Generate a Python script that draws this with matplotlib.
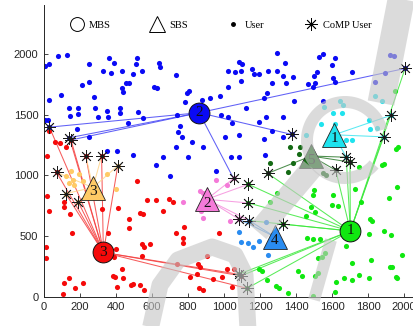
import numpy as np
import matplotlib
matplotlib.use('Agg')
import matplotlib.pyplot as plt
from matplotlib.lines import Line2D
from matplotlib.transforms import Affine2D

# ---------------- data ----------------
mbs_labels = ['1', '2', '3']
mbs_x = [1702, 862, 330]
mbs_y = [542, 1517, 365]

sbs_labels = ['1', '2', '3', '4', '5']
sbs_x = [1612, 904, 272, 1281, 1484]
sbs_y = [1335, 803, 900, 495, 1160]

users_M1 = [(1502,880),(1496,838),(1607,838),(1598,756),(1635,748),(1506,701),(1483,737),(1454,665),
            (1728,885),(1761,783),(1811,638),(1820,627),(1806,517),(1891,544),(1928,509),(1959,907),
            (1917,811),(1987,344),(1817,302),(1709,275),(1922,248),(1935,242),(1750,179),(1709,138),
            (1806,151),(1669,151),(1620,124),(1956,160),(1961,151),(1617,41),(1506,171),(1524,193),
            (1409,215),(1432,171),(1354,33),(1496,5),(1561,357),(1546,324),(1524,316),(1676,418),
            (1459,481),(1496,473),(1533,473),(1950,1700),(1969,1237),(1955,1220),(1876,1088),(1889,1094),
            (1752,1072),(1296,858),(1258,780),(1196,225),(1210,210),(1241,138),(1290,85),(1305,69)]

users_M2 = [(8,1905),(30,1915),(80,1985),(130,1990),(252,1915),(361,1965),(391,1924),(519,1965),
            (511,1915),(493,1833),(543,1863),(641,1924),(645,1896),(330,1863),(372,1847),(432,1863),
            (432,1723),(437,1685),(456,1759),(474,1764),(209,1745),(252,1772),(94,1663),(30,1621),
            (141,1553),(191,1553),(144,1492),(191,1506),(283,1553),(280,1643),(352,1533),(422,1553),
            (422,1511),(524,1525),(552,1470),(465,1434),(354,1478),(302,1484),(252,1314),(182,1380),
            (8,1456),(20,1456),(733,1825),(611,1729),(626,1723),(793,1676),(806,1698),(783,1602),
            (737,1498),(756,1407),(743,1360),(765,1314),(820,1278),(882,1231),(733,1231),(802,1149),
            (622,1085),(663,1149),(700,995),(348,1204),(407,1204),(493,1168),(876,1622),
            (1296,2006),(1530,1979),(1548,1998),(1617,1965),(1024,1863),(1061,1855),(1085,1937),(1098,1918),
            (1095,1863),(1154,1874),(1196,1836),(1167,1836),(1246,1863),(1296,1863),(1339,1924),(1385,1808),
            (1326,1819),(1345,1764),(1265,1759),(1095,1781),(1024,1726),(1469,1753),(1506,1759),(1515,1855),
            (1500,1819),(1598,1910),(1607,1800),(1617,1772),(1709,1855),(1493,1726),(1237,1676),(1224,1635),
            (1389,1613),(1122,1553),(922,1635),(978,1654),(983,1498),(1024,1478),(1043,1434),(1196,1443),
            (1233,1478),(1326,1478),(1265,1369),(1222,1300),(1006,1314),(1085,1333),(1326,1314),(1037,1149),
            (1085,1149),(955,1035),(1228,1168),(1552,1613),(1922,1992),(1946,1984),(1895,1841),(1839,1772)]

users_M3 = [(30,1369),(61,1278),(89,1270),(122,1232),(18,1160),(18,830),(30,706),(111,742),(111,783),
            (144,679),(154,528),(320,720),(354,528),(413,728),(474,638),(474,564),(533,693),(548,679),
            (574,797),(622,797),(663,703),(543,434),(589,434),(556,412),(543,336),(400,390),(390,330),
            (11,407),(11,316),(111,116),(141,151),(172,74),(219,116),(104,22),(385,171),(394,160),
            (441,151),(432,226),(482,96),(493,105),(533,96),(556,55),(404,77),(515,957),(696,803),
            (715,778),(733,522),(778,572),(774,481),(770,445),(974,528),(811,160),(852,187),(941,143),
            (863,69),(881,55),(1043,77),(737,270),(857,270),(867,242),(904,336),(987,160),(1015,226),
            (1056,226)]

users_S1 = [(1556,1566),(1604,1517),(1645,1613),(1659,1580),(1654,1517),(1808,1456),(1811,1380),
            (1848,1388),(1537,1423),(1617,1423),(1456,1333),(1709,1292),(1678,1292),(1839,1654),(1876,1613)]
users_S2 = [(774,783),(867,874),(881,858),(870,710),(881,646),(956,962),(1015,921),(1033,627)]
users_S3 = [(122,995),(150,1040),(196,1015),(219,957),(352,1008),(400,885),(141,940),(169,921),(163,962)]
users_S4 = [(1085,536),(1093,454),(1135,440),(1163,407),(1196,462),(1233,619),(1246,344)]
users_S5 = [(1367,1231),(1422,1237),(1417,1177),(1385,1100),(1256,1100),(1357,1031),(1552,1017),(1567,1003)]

comp_x = [30, 141, 150, 232, 320, 410, 70, 120, 191, 1053, 1135, 1135, 1085, 1141, 1328, 1243,
          1082, 1095, 1128, 1376, 2006, 1925, 1887, 1679, 1700, 1621]
comp_y = [1398, 1311, 1292, 1163, 1160, 1080, 1025, 850, 778, 975, 927, 773, 638, 627, 598, 1017,
          185, 172, 69, 1338, 1882, 1494, 1318, 1150, 1110, 1043]
comp_cell = ['M2','M2','M3','M3','M3','S3','M3','S3','S3','S2','M1','M1','S2','S4','M1','S5',
             'M1','M3','M1','M2','M2','S1','S1','S1','S5','S5']
comp_links = [['M2','M3'],['M2','M3'],['M2','M3'],['M3','S3'],['M3','S3'],['S3','M3'],['M3','S3'],
              ['S3','M3'],['S3','M3'],['M2','S2'],['S2','M1'],['S2','M1'],['S2','S4'],['S2','S4','M1'],
              ['S4','M1'],['S5','M1'],['M3','M1'],['M3','M1'],['M3','M1'],['M2'],['M2','M1'],
              ['S1','M1'],['S1','M1'],['S1','S5','M1'],['S5','M1'],['S5','M1']]

# ---------------- style ----------------
colors = {'M1': '#10E810', 'M2': '#0A0AF5', 'M3': '#F50A0A',
          'S1': '#1FE3EE', 'S2': '#F47AD8', 'S3': '#FFCA66',
          'S4': '#2A8CF0', 'S5': '#146A14'}
line_colors = {'M1': '#3CE83C', 'M2': '#4545F5', 'M3': '#F54040',
               'S1': '#3FE6F0', 'S2': '#F590DC', 'S3': '#FFD58A',
               'S4': '#4A9CF0', 'S5': '#2E7A2E'}

bs_pos = {}
for i, lab in enumerate(mbs_labels):
    bs_pos['M' + lab] = (mbs_x[i], mbs_y[i])
for i, lab in enumerate(sbs_labels):
    bs_pos['S' + lab] = (sbs_x[i], sbs_y[i])

W, H = 413, 326
fig = plt.figure(figsize=(W / 100, H / 100), dpi=100)
ax = fig.add_axes([44/W, 29.3/H, 369/W, 291.7/H])
ax.set_xlim(0, 2050)
ax.set_ylim(0, 2405)

# association lines
for cx, cy, links in zip(comp_x, comp_y, comp_links):
    for c in links:
        bx, by = bs_pos[c]
        ax.plot([bx, cx], [by, cy], color=line_colors[c], lw=0.75, alpha=0.85, zorder=1)

# users
groups = {'M1': users_M1, 'M2': users_M2, 'M3': users_M3, 'S1': users_S1,
          'S2': users_S2, 'S3': users_S3, 'S4': users_S4, 'S5': users_S5}
for c, pts in groups.items():
    arr = np.array(pts)
    ax.plot(arr[:, 0], arr[:, 1], 'o', ms=3.7, color=colors[c], mec='none', zorder=2)

# CoMP users
for cx, cy, c in zip(comp_x, comp_y, comp_cell):
    ax.plot(cx, cy, 'o', ms=3.7, color=colors[c], mec='none', zorder=3)
ax.plot(comp_x, comp_y, ls='none', marker=(8, 2, 0), ms=9, mew=0.6, color='#1a1a1a', zorder=4)

# base stations
serif = ['Liberation Serif', 'DejaVu Serif']
for i, lab in enumerate(mbs_labels):
    ax.plot(mbs_x[i], mbs_y[i], 'o', ms=15, mfc=colors['M' + lab], mec='#111111', mew=0.7, zorder=5)
    ax.text(mbs_x[i], mbs_y[i], lab, ha='center', va='center', fontsize=11,
            family=serif, color='#111111', zorder=6)
for i, lab in enumerate(sbs_labels):
    ax.plot(sbs_x[i], sbs_y[i], '^', ms=17.5, mfc=colors['S' + lab], mec='#222222', mew=0.6, zorder=5)
    ax.annotate(lab, (sbs_x[i], sbs_y[i]), xytext=(0, -3), textcoords='offset points',
                ha='center', va='center', fontsize=11, family=serif, color='#111111', zorder=6)

# axes styling
for s in ['top', 'right']:
    ax.spines[s].set_visible(False)
for s in ['left', 'bottom']:
    ax.spines[s].set_color('#262626')
    ax.spines[s].set_linewidth(0.7)
ax.set_xticks(np.arange(0, 2001, 200))
ax.set_yticks(np.arange(0, 2001, 500))
ax.tick_params(direction='in', length=3, width=0.6, color='#262626',
               labelsize=8, labelcolor='#262626', pad=4)
for t in ax.get_xticklabels() + ax.get_yticklabels():
    t.set_family(['Liberation Sans', 'DejaVu Sans'])

# legend
handles = [Line2D([], [], ls='none', marker='o', ms=10, mfc='none', mec='black', mew=0.7),
           Line2D([], [], ls='none', marker='^', ms=11, mfc='none', mec='black', mew=0.7),
           Line2D([], [], ls='none', marker='o', ms=2.5, color='black'),
           Line2D([], [], ls='none', marker=(8, 2, 0), ms=9, mew=0.6, color='black')]
leg = ax.legend(handles, ['MBS', 'SBS', 'User', 'CoMP User'], ncol=4, frameon=False,
                loc='center', bbox_to_anchor=(0.477, 0.931),
                prop={'family': 'Liberation Serif', 'size': 7.5},
                handlelength=1.6, handletextpad=0.35, columnspacing=3.6)

# ---------------- background watermark (approximate, in image pixels) ----------------
px_tr = Affine2D().scale(1, -1).translate(0, H)   # top-left pixel origin -> display
wm_kw = dict(color='#c6c6c6', alpha=0.62, transform=px_tr, zorder=8,
             solid_capstyle='butt', solid_joinstyle='round')
wm_strokes = [
    ([402, 381], [-5, 103], 27),                                    # top-right band
    ([150, 160, 178, 212, 235, 245, 248], [330, 285, 260, 247, 255, 275, 330], 17),  # lower arch
    ([312, 258], [168, 232], 22),                                   # diagonal
    ([331, 314], [240, 300], 12),                                   # vertical band
]
for xs, ys, wpx in wm_strokes:
    fig.add_artist(Line2D(xs, ys, lw=wpx * 0.72, **wm_kw))
ang = np.deg2rad(np.linspace(15, 320, 80))
ring_cx, ring_cy, ring_r = 345, 140, 38
fig.add_artist(Line2D(ring_cx + ring_r * np.cos(ang), ring_cy - ring_r * np.sin(ang),
                      lw=12 * 0.72, **wm_kw))

fig.savefig('out.png', dpi=100)
